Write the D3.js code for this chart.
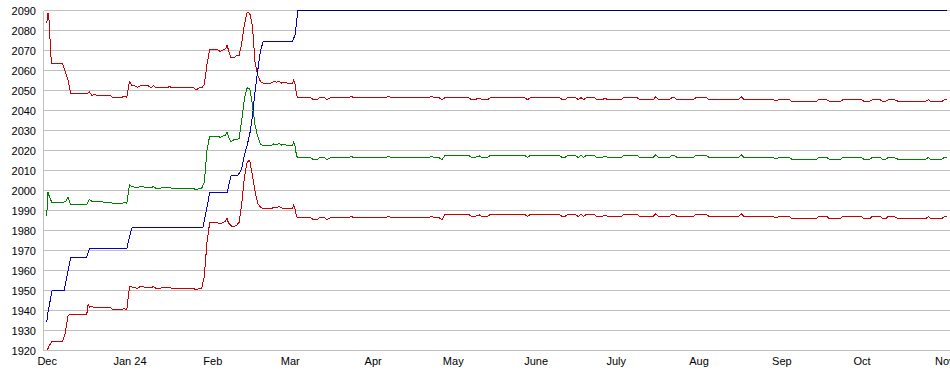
<!DOCTYPE html>
<html>
<head>
<meta charset="utf-8">
<script src="https://cdn.jsdelivr.net/npm/d3@7"></script>
<style>
  body { margin: 0; background: #fff; }
  svg { display: block; }
  text { font-family: "Liberation Sans", Arial, sans-serif; font-size: 11px; fill: #000; }
</style>
</head>
<body>
<svg id="chart" width="950" height="375"></svg>
<script>
// tick labels
const yTicks = [1920, 1930, 1940, 1950, 1960, 1970, 1980, 1990, 2000, 2010, 2020, 2030, 2040, 2050, 2060, 2070, 2080, 2090];
const monthLabels = ["Jan 24", "Feb", "Mar", "Apr", "May", "June", "July", "Aug", "Sep", "Oct", "Nov", "Dec"];

// blue line (steps up, then sits at the top)
const blueLine = [
  ["2023-12-01", 1934], ["2023-12-01 12", 1939], ["2023-12-03", 1950], ["2023-12-07 12", 1950],
  ["2023-12-10", 1966.7], ["2023-12-16", 1966.7], ["2023-12-17", 1970.8], ["2023-12-31", 1970.8],
  ["2024-01-01", 1977], ["2024-01-02", 1981.7], ["2024-01-28 12", 1981.7], ["2024-01-30", 1991.5],
  ["2024-01-31", 1998.8], ["2024-02-06 12", 1998.8], ["2024-02-08", 2007.3], ["2024-02-10 12", 2007.3],
  ["2024-02-12", 2010.8], ["2024-02-13", 2017.5], ["2024-02-14", 2022.5], ["2024-02-15", 2028],
  ["2024-02-16", 2037], ["2024-02-17", 2049.5], ["2024-02-18", 2060], ["2024-02-19", 2069.5],
  ["2024-02-20", 2074.5], ["2024-03-02", 2074.5], ["2024-03-03", 2078], ["2024-03-04", 2090],
  ["2024-11-02", 2090]
];

// Dec - early March, each series on its own dates
const upperEarly = [
  ["2023-12-01", 2083.5], ["2023-12-01 12", 2088.5], ["2023-12-02", 2084], ["2023-12-02 12", 2068],
  ["2023-12-03", 2063.3], ["2023-12-07", 2063.3], ["2023-12-08", 2059], ["2023-12-09", 2055],
  ["2023-12-10", 2048.3], ["2023-12-16", 2048.3], ["2023-12-17", 2049.3], ["2023-12-18", 2047.5],
  ["2023-12-19", 2048], ["2023-12-20", 2047.3], ["2023-12-25", 2047.3], ["2023-12-26", 2046.3],
  ["2023-12-29", 2046.3], ["2023-12-30", 2047.3], ["2023-12-31", 2046.5], ["2024-01-01", 2054.5],
  ["2024-01-02", 2052.3], ["2024-01-03", 2052.3], ["2024-01-04", 2051.5], ["2024-01-05", 2052.3],
  ["2024-01-08", 2052.3], ["2024-01-09", 2051.5], ["2024-01-10", 2052.3], ["2024-01-11", 2051.3],
  ["2024-01-15", 2051.3], ["2024-01-16", 2052], ["2024-01-17", 2051.3], ["2024-01-25", 2051.3],
  ["2024-01-26", 2050.3], ["2024-01-27", 2051.3], ["2024-01-28", 2051.3], ["2024-01-29", 2053],
  ["2024-01-30", 2063], ["2024-01-31", 2070.3], ["2024-02-03", 2070.3], ["2024-02-04", 2069.5],
  ["2024-02-05", 2070.3], ["2024-02-06", 2070.8], ["2024-02-06 12", 2072.5], ["2024-02-07", 2070.5],
  ["2024-02-08", 2066.3], ["2024-02-09", 2066.3], ["2024-02-10", 2067.3], ["2024-02-11", 2067.5],
  ["2024-02-12", 2073.5], ["2024-02-13", 2083], ["2024-02-14", 2089], ["2024-02-15", 2088.7],
  ["2024-02-16", 2082.5], ["2024-02-17", 2064], ["2024-02-18", 2057.7], ["2024-02-19", 2054.5],
  ["2024-02-20", 2053.7], ["2024-02-23", 2053.7], ["2024-02-24", 2054.5], ["2024-02-25", 2054.2],
  ["2024-02-26", 2054.5], ["2024-02-27", 2053.7], ["2024-02-28", 2054.2], ["2024-02-29", 2053.7],
  ["2024-03-02", 2053.7], ["2024-03-02 12", 2055.3], ["2024-03-03", 2053], ["2024-03-03 12", 2048]
];
const midEarly = [
  ["2023-12-01", 1987], ["2023-12-01 12", 1999], ["2023-12-02", 1997], ["2023-12-03", 1993.8],
  ["2023-12-08", 1994.3], ["2023-12-09", 1996.5], ["2023-12-10", 1993], ["2023-12-16", 1993],
  ["2023-12-17", 1995.5], ["2023-12-18", 1994.5], ["2023-12-19", 1994.3], ["2023-12-25", 1994.2],
  ["2023-12-26", 1993.3], ["2023-12-29", 1993.3], ["2023-12-30", 1994.2], ["2023-12-31", 1993.5],
  ["2024-01-01", 2002.8], ["2024-01-02", 2002], ["2024-01-04", 2001.3], ["2024-01-05", 2002],
  ["2024-01-09", 2001.3], ["2024-01-10", 2002], ["2024-01-11", 2001], ["2024-01-16", 2001.7],
  ["2024-01-17", 2001], ["2024-01-25", 2001], ["2024-01-26", 2000.3], ["2024-01-27", 2001],
  ["2024-01-28", 2001], ["2024-01-29", 2004], ["2024-01-30", 2020], ["2024-01-31", 2027.2],
  ["2024-02-03", 2027.2], ["2024-02-04", 2026.5], ["2024-02-05", 2027.2], ["2024-02-06", 2027.8],
  ["2024-02-06 12", 2029.2], ["2024-02-07", 2027], ["2024-02-08", 2024.3], ["2024-02-09", 2025.3],
  ["2024-02-10", 2025.3], ["2024-02-11", 2026], ["2024-02-12", 2035], ["2024-02-13", 2045.8],
  ["2024-02-14", 2051.3], ["2024-02-15", 2051], ["2024-02-16", 2043], ["2024-02-17", 2032.5],
  ["2024-02-18", 2027], ["2024-02-19", 2023.3], ["2024-02-20", 2022.5], ["2024-02-23", 2022.5],
  ["2024-02-24", 2023.3], ["2024-02-25", 2023], ["2024-02-26", 2023.5], ["2024-02-27", 2022.7],
  ["2024-02-28", 2023], ["2024-02-29", 2022.5], ["2024-03-02", 2022.5], ["2024-03-02 12", 2024.2],
  ["2024-03-03", 2022], ["2024-03-03 12", 2017.5]
];
const lowerEarly = [
  ["2023-12-01", 1920], ["2023-12-01 12", 1921], ["2023-12-02", 1922.5], ["2023-12-03", 1924.7],
  ["2023-12-07", 1924.7], ["2023-12-08", 1929], ["2023-12-09", 1937.5], ["2023-12-10", 1938],
  ["2023-12-16", 1938], ["2023-12-16 12", 1943], ["2023-12-17", 1941.7], ["2023-12-18", 1942],
  ["2023-12-19", 1941.3], ["2023-12-25", 1941.3], ["2023-12-26", 1940.3], ["2023-12-29", 1940.3],
  ["2023-12-30", 1941], ["2023-12-31", 1940.3], ["2024-01-01", 1952], ["2024-01-02", 1951.7],
  ["2024-01-04", 1951], ["2024-01-05", 1952], ["2024-01-09", 1951.3], ["2024-01-10", 1952],
  ["2024-01-11", 1951], ["2024-01-16", 1951.7], ["2024-01-17", 1951], ["2024-01-25", 1951],
  ["2024-01-26", 1950.3], ["2024-01-27", 1951], ["2024-01-28", 1951], ["2024-01-29", 1957],
  ["2024-01-30", 1974], ["2024-01-31", 1983.8], ["2024-02-03", 1983.8], ["2024-02-04", 1983.3],
  ["2024-02-05", 1984], ["2024-02-06", 1984.8], ["2024-02-06 12", 1986], ["2024-02-07", 1984],
  ["2024-02-08", 1982.3], ["2024-02-09", 1982], ["2024-02-10", 1982.5], ["2024-02-11", 1984],
  ["2024-02-12", 1993], ["2024-02-13", 2006.5], ["2024-02-14", 2014], ["2024-02-15", 2015.2],
  ["2024-02-16", 2007.5], ["2024-02-17", 1999.5], ["2024-02-18", 1993.5], ["2024-02-19", 1991.8],
  ["2024-02-20", 1990.8], ["2024-02-23", 1990.8], ["2024-02-24", 1991.7], ["2024-02-25", 1991.3],
  ["2024-02-26", 1992], ["2024-02-27", 1991.3], ["2024-02-28", 1991], ["2024-02-29", 1990.8],
  ["2024-03-02", 1990.8], ["2024-03-02 12", 1992.8], ["2024-03-03", 1990.5], ["2024-03-03 12", 1987]
];

// March 4 onwards, the three lines share dates
const lateDates = [
  "2024-03-04", "2024-03-09", "2024-03-10", "2024-03-11", "2024-03-12", "2024-03-14", "2024-03-15", "2024-03-16",
  "2024-03-23", "2024-03-24", "2024-03-25", "2024-04-06", "2024-04-07", "2024-04-08", "2024-04-22", "2024-04-23",
  "2024-04-24", "2024-04-26", "2024-04-27", "2024-04-28", "2024-05-07", "2024-05-08", "2024-05-09", "2024-05-11",
  "2024-05-12", "2024-05-14", "2024-05-15", "2024-05-28", "2024-05-29", "2024-05-30", "2024-06-10", "2024-06-11",
  "2024-06-12", "2024-06-13", "2024-06-16", "2024-06-17", "2024-06-18", "2024-06-19", "2024-06-20", "2024-06-23",
  "2024-06-24", "2024-06-26", "2024-06-27", "2024-06-28", "2024-07-03", "2024-07-04", "2024-07-09", "2024-07-10",
  "2024-07-15", "2024-07-16", "2024-07-17", "2024-07-21", "2024-07-22", "2024-07-23", "2024-07-24", "2024-07-30",
  "2024-07-31", "2024-08-04", "2024-08-05", "2024-08-16", "2024-08-17", "2024-08-18", "2024-08-29", "2024-08-30",
  "2024-08-31", "2024-09-04", "2024-09-05", "2024-09-14", "2024-09-15", "2024-09-18", "2024-09-19", "2024-09-23",
  "2024-09-24", "2024-10-01", "2024-10-02", "2024-10-04", "2024-10-05", "2024-10-08", "2024-10-09", "2024-10-10",
  "2024-10-11", "2024-10-13", "2024-10-14", "2024-10-15", "2024-10-25", "2024-10-26", "2024-10-27", "2024-10-31",
  "2024-11-01", "2024-11-02"
];
const upperLate = [
  2046.3, 2046.3, 2045.3, 2045.3, 2046.3, 2046.3, 2045.5, 2046.3,
  2046.3, 2047.2, 2046.3, 2046.3, 2047.2, 2046.3, 2046.3, 2047.2,
  2046.3, 2046.3, 2045.3, 2046.4, 2046.4, 2045.4, 2045.4, 2046.2,
  2045.4, 2045.4, 2046.4, 2046.4, 2045.4, 2046.4, 2046.4, 2045.4,
  2045.4, 2046.4, 2046.4, 2045.4, 2046.4, 2045.4, 2046.4, 2046.4,
  2045.4, 2045.4, 2046.2, 2045.4, 2045.4, 2046.4, 2046.4, 2045.4,
  2045.4, 2046.8, 2045.4, 2045.4, 2046.4, 2046.4, 2045.4, 2045.4,
  2046.4, 2046.4, 2045.4, 2045.4, 2046.8, 2045.4, 2045.4, 2044.8,
  2045.4, 2045.4, 2044.5, 2044.5, 2045.4, 2045.4, 2044.5, 2044.5,
  2045.4, 2045.4, 2044.5, 2044.5, 2045.4, 2045.4, 2044.5, 2044.5,
  2045.4, 2045.4, 2045, 2044.5, 2044.5, 2045.4, 2044.5, 2044.5,
  2045.4, 2045.4
];
const midLate = [
  2016.3, 2016.3, 2015.3, 2015.3, 2016.3, 2016.3, 2015.5, 2016.3,
  2016.3, 2017.2, 2016.3, 2016.3, 2017.2, 2016.3, 2016.3, 2017.2,
  2016.3, 2016.3, 2015.3, 2017.5, 2017.5, 2016.5, 2016.5, 2017.3,
  2016.5, 2016.5, 2017.5, 2017.5, 2016.5, 2017.5, 2017.5, 2016.5,
  2016.5, 2017.5, 2017.5, 2016.5, 2017.5, 2016.5, 2017.5, 2017.5,
  2016.5, 2016.5, 2017.3, 2016.5, 2016.5, 2017.5, 2017.5, 2016.5,
  2016.5, 2017.8, 2016.5, 2016.5, 2017.5, 2017.5, 2016.5, 2016.5,
  2017.5, 2017.5, 2016.5, 2016.5, 2017.8, 2016.5, 2016.5, 2015.8,
  2016.5, 2016.5, 2015.5, 2015.5, 2016.5, 2016.5, 2015.5, 2015.5,
  2016.5, 2016.5, 2015.5, 2015.5, 2016.5, 2016.5, 2015.5, 2015.5,
  2016.5, 2016.5, 2016, 2015.5, 2015.5, 2016.5, 2015.5, 2015.5,
  2016.5, 2016.5
];
const lowerLate = [
  1986.3, 1986.3, 1985.3, 1985.3, 1986.3, 1986.3, 1985.5, 1986.3,
  1986.3, 1987.2, 1986.3, 1986.3, 1987.2, 1986.3, 1986.3, 1987.2,
  1986.3, 1986.3, 1985.3, 1988, 1988, 1987, 1987, 1987.8,
  1987, 1987, 1988, 1988, 1987, 1988, 1988, 1987,
  1987, 1988, 1988, 1987, 1988, 1987, 1988, 1988,
  1987, 1987, 1987.8, 1987, 1987, 1988, 1988, 1987,
  1987, 1988.3, 1987, 1987, 1988, 1988, 1987, 1987,
  1988, 1988, 1987, 1987, 1988.3, 1987, 1987, 1986.2,
  1987, 1987, 1985.8, 1985.8, 1987, 1987, 1985.8, 1985.8,
  1987, 1987, 1985.8, 1985.8, 1987, 1987, 1985.8, 1985.8,
  1987, 1987, 1986.5, 1985.8, 1985.8, 1987, 1985.8, 1985.8,
  1987, 1987
];

const parseDay = d3.utcParse("%Y-%m-%d");
const parseHour = d3.utcParse("%Y-%m-%d %H");
const parse = s => s.length > 10 ? parseHour(s) : parseDay(s);

function build(early, late) {
  const pts = early.map(d => [parse(d[0]), d[1]]);
  lateDates.forEach((s, i) => pts.push([parse(s), late[i]]));
  return pts;
}

// the blue line turns dark once it hits the top of the scale
const bluePts = blueLine.map(d => [parse(d[0]), d[1]]);
const topAt = bluePts.findIndex(d => d[1] >= 2090);

const series = [
  { color: "#cc0000", data: build(upperEarly, upperLate) },
  { color: "#008000", data: build(midEarly, midLate) },
  { color: "#cc0000", data: build(lowerEarly, lowerLate) },
  { color: "#0000cc", data: bluePts.slice(0, topAt + 1) },
  { color: "#000066", data: bluePts.slice(topAt) }
];

const svg = d3.select("#chart");

const x = d3.scaleUtc()
  .domain([parse("2023-11-30"), parse("2024-11-02")])
  .range([44, 947]);
const y = d3.scaleLinear()
  .domain([1920, 2090])
  .range([350.5, 10.5]);

// horizontal grid
svg.append("g").selectAll("line")
  .data(yTicks)
  .enter().append("line")
  .attr("x1", 44).attr("x2", 950)
  .attr("y1", d => y(d)).attr("y2", d => y(d))
  .attr("stroke", "#c0c0c0")
  .attr("shape-rendering", "crispEdges");

// left edge
svg.append("line")
  .attr("x1", 43.5).attr("x2", 43.5)
  .attr("y1", y(2090)).attr("y2", y(1920))
  .attr("stroke", "#c0c0c0")
  .attr("shape-rendering", "crispEdges");

// y labels
const yAxis = svg.append("g")
  .attr("transform", "translate(43.5,0)")
  .call(d3.axisLeft(y).tickValues(yTicks).tickSize(0).tickPadding(7.5).tickFormat(d3.format("d")));
yAxis.select(".domain").remove();
yAxis.selectAll("text").attr("font-size", null).attr("font-family", null);

// x labels
const xAxis = svg.append("g")
  .attr("transform", "translate(0,350.5)")
  .call(d3.axisBottom(x).ticks(d3.utcMonth.every(1)).tickSize(0).tickPadding(7)
    .tickFormat(d => monthLabels[d.getUTCMonth()]));
xAxis.select(".domain").remove();
xAxis.selectAll("text").attr("font-size", null).attr("font-family", null);

// lines
const line = d3.line()
  .x(d => x(d[0]))
  .y(d => y(d[1]));

svg.append("g").selectAll("path")
  .data(series)
  .enter().append("path")
  .attr("fill", "none")
  .attr("stroke", d => d.color)
  .attr("stroke-width", 1)
  .attr("shape-rendering", "crispEdges")
  .attr("d", d => line(d.data));
</script>
</body>
</html>
